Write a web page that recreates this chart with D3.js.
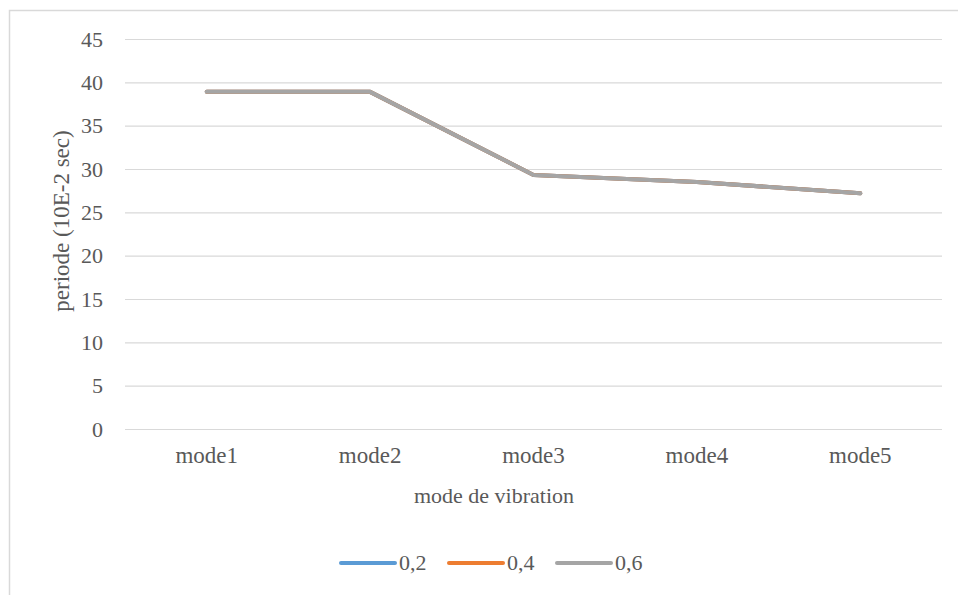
<!DOCTYPE html>
<html>
<head>
<meta charset="utf-8">
<script src="https://cdn.jsdelivr.net/npm/d3@7"></script>
<style>
  body { margin: 0; background: #fff; }
  svg text { font-family: 'Liberation Serif', 'DejaVu Serif', serif !important; fill: #595959; }
</style>
</head>
<body>
<script>
// categories and series
const modes = ["mode1", "mode2", "mode3", "mode4", "mode5"];
const serie02 = [38.9, 38.9, 29.3, 28.5, 27.2];
const serie04 = [38.9, 38.9, 29.3, 28.5, 27.2];
const serie06 = [38.9, 38.9, 29.3, 28.5, 27.2];
const seriesNames = ["0,2", "0,4", "0,6"];
const seriesColors = ["#5b9bd5", "#ed7d31", "#a5a5a5"];
const yTicks = [0, 5, 10, 15, 20, 25, 30, 35, 40, 45];

const series = [serie02, serie04, serie06].map((vals, i) => ({
    name: seriesNames[i],
    color: seriesColors[i],
    values: vals
}));

const FONT = "'Liberation Serif', 'DejaVu Serif', serif";

let margin = { top: 39, right: 16, bottom: 166, left: 125 };
let width = 958 - margin.left - margin.right,
    height = 595 - margin.top - margin.bottom;

let svg = d3.select("body")
    .append("svg")
    .attr("width", 958)
    .attr("height", 595);

// chart border
svg.append("rect")
    .attr("x", 9.5)
    .attr("y", 10.5)
    .attr("width", 1000)
    .attr("height", 700)
    .attr("fill", "none")
    .attr("stroke", "#d9d9d9")
    .attr("stroke-width", 1.5);

let g = svg.append("g")
    .attr("transform", "translate(" + margin.left + "," + margin.top + ")");

let x = d3.scaleBand()
    .domain(modes)
    .range([0, width]);

let y = d3.scaleLinear()
    .domain([0, 45])
    .range([height, 0]);

// gridlines + y labels
let yAxis = g.append("g")
    .call(d3.axisLeft(y).tickValues(yTicks).tickSize(-width).tickPadding(22))
    .attr("font-family", FONT);
yAxis.select(".domain").remove();
yAxis.selectAll("line").attr("stroke", "#d9d9d9").attr("stroke-width", 1.2);
yAxis.selectAll("text")
    .attr("font-size", "22px")
    .attr("fill", "#595959")
    .style("font-family", FONT);

// x labels
let xAxis = g.append("g")
    .attr("transform", "translate(0," + height + ")")
    .call(d3.axisBottom(x).tickSize(0).tickPadding(18))
    .attr("font-family", FONT);
xAxis.select(".domain").remove();
xAxis.selectAll("text")
    .attr("font-size", "23px")
    .attr("fill", "#595959")
    .style("font-family", FONT);

// lines
let line = d3.line()
    .x((d, i) => x(modes[i]) + x.bandwidth() / 2)
    .y(d => y(d));

g.selectAll(".serie")
    .data(series)
    .enter()
    .append("path")
    .attr("class", "serie")
    .attr("d", d => line(d.values))
    .attr("fill", "none")
    .attr("stroke", d => d.color)
    .attr("stroke-width", 4)
    .attr("stroke-linecap", "round")
    .attr("stroke-linejoin", "round");

// axis titles
svg.append("text")
    .attr("x", 494)
    .attr("y", 503)
    .attr("text-anchor", "middle")
    .attr("font-size", "22px")
    .style("font-family", FONT)
    .text("mode de vibration");

svg.append("text")
    .attr("transform", "translate(69,221) rotate(-90)")
    .attr("text-anchor", "middle")
    .attr("font-size", "23px")
    .style("font-family", FONT)
    .text("periode (10E-2 sec)");

// legend
let legend = svg.append("g")
    .attr("transform", "translate(341,563)");

let item = legend.selectAll(".item")
    .data(series)
    .enter()
    .append("g")
    .attr("transform", (d, i) => "translate(" + (i * 108) + ",0)");

item.append("line")
    .attr("x1", 0)
    .attr("x2", 54)
    .attr("stroke", d => d.color)
    .attr("stroke-width", 4)
    .attr("stroke-linecap", "round");

item.append("text")
    .attr("x", 58)
    .attr("y", 7)
    .attr("font-size", "22px")
    .style("font-family", FONT)
    .text(d => d.name);
</script>
</body>
</html>
